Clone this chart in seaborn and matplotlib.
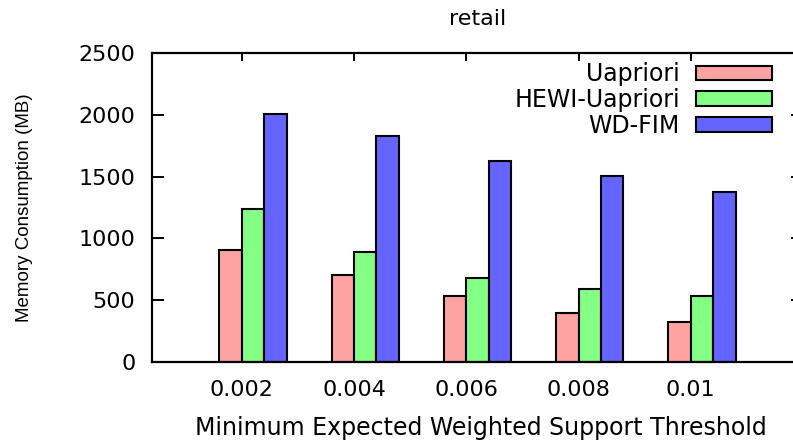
import pandas as pd
import numpy as np
import matplotlib
matplotlib.use('Agg')
import matplotlib.pyplot as plt
from matplotlib import font_manager
import seaborn as sns

# 數據
thresholds = ['0.002', '0.004', '0.006', '0.008', '0.01']
algorithms = ['Uapriori', 'HEWI-Uapriori', 'WD-FIM']
uapriori = [910, 705, 535, 400, 325]
hewi_uapriori = [1240, 890, 682, 588, 536]
wd_fim = [2005, 1825, 1628, 1507, 1372]
colors = ['#ffa2a2', '#84fe84', '#6464fe']

df = pd.DataFrame({
    'threshold': thresholds * 3,
    'memory': uapriori + hewi_uapriori + wd_fim,
    'algorithm': [a for a in algorithms for _ in thresholds],
})

sns.set_theme(style='white')
plt.rcParams['font.family'] = ['DejaVu Sans']
plt.rcParams['text.color'] = 'black'
plt.rcParams['axes.labelcolor'] = 'black'
plt.rcParams['axes.edgecolor'] = 'black'
plt.rcParams['axes.linewidth'] = 1.6

# 縱軸標題用窄字型（若有）
names = {f.name for f in font_manager.fontManager.ttflist}
if 'Liberation Sans Narrow' in names:
    ylab_family, ylab_size = ['Liberation Sans Narrow', 'DejaVu Sans'], 16.5
else:
    ylab_family, ylab_size = ['Liberation Sans', 'DejaVu Sans'], 13.5

fig = plt.figure(figsize=(7.93, 4.41), dpi=100)
W, H = 793, 441
ax = fig.add_axes([152 / W, 1 - 362 / H, 651 / W, 309 / H])

sns.barplot(data=df, x='threshold', y='memory', hue='algorithm',
            order=thresholds, hue_order=algorithms, palette=colors,
            width=0.6, saturation=1, edgecolor='black', linewidth=1.5,
            ax=ax)

# 刻度在粉紅與綠色柱之間
tick_pos = np.arange(len(thresholds)) - 0.1
ax.set_xticks(tick_pos)
ax.set_xticklabels(thresholds)
ax.set_xlim(-0.9, 4.9)
ax.set_ylim(0, 2500)
ax.set_yticks([0, 500, 1000, 1500, 2000, 2500])
ax.set_axisbelow(True)

ax.tick_params(axis='y', which='both', direction='in', length=8.6, width=1.4,
               left=True, right=True, labelsize=16, pad=12, colors='black')
ax.tick_params(axis='x', which='both', direction='in', length=6, width=1.4,
               bottom=True, top=True, labelsize=16, pad=13, colors='black')

ax.set_title('retail', fontsize=16, pad=20)
ax.set_xlabel('Minimum Expected Weighted Support Threshold', fontsize=17)
ax.xaxis.set_label_coords(0.505, -0.175)
ax.set_ylabel('Memory Consumption (MB)', fontsize=ylab_size, family=ylab_family)
ax.yaxis.set_label_coords(-0.183, 0.5)

handles, labels = ax.get_legend_handles_labels()
ax.legend(handles, labels, loc='upper right', frameon=False,
          markerfirst=False, fontsize=17, handlelength=3.2, handleheight=0.55,
          handletextpad=0.7, labelspacing=0.08, borderpad=0, borderaxespad=0,
          bbox_to_anchor=(772 / W, 1 - 62 / H), bbox_transform=fig.transFigure)

fig.savefig('out.png', dpi=100)
